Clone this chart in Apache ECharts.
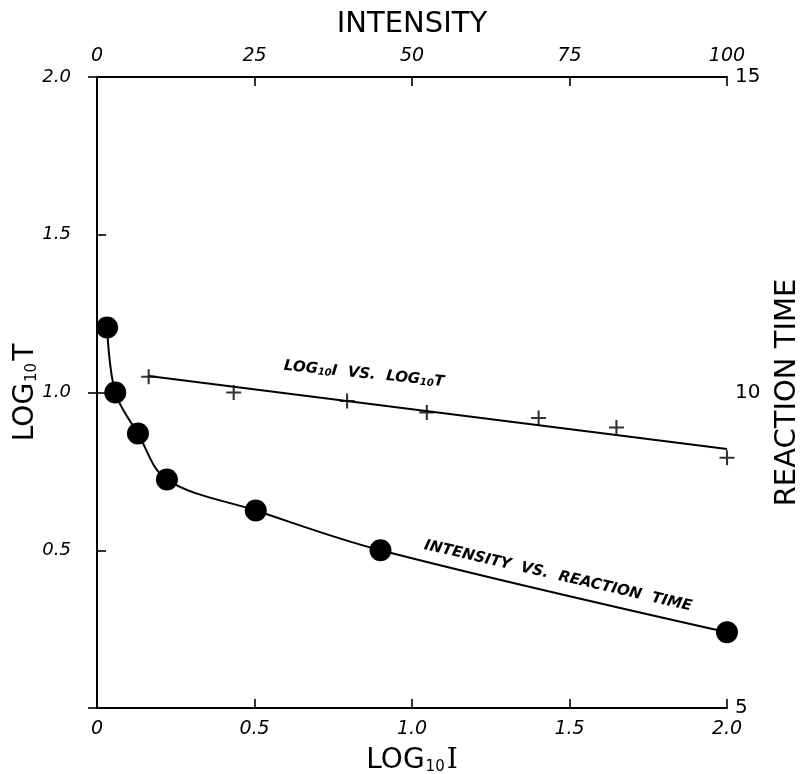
<!DOCTYPE html>
<html><head><meta charset="utf-8">
<script src="https://cdn.jsdelivr.net/npm/echarts@6/dist/echarts.min.js"></script>
<style>html,body{margin:0;padding:0;background:#fff}#c{width:804px;height:774px}</style>
</head><body><div id="c"></div>
<script>
// bottom / left axes: log10 I vs log10 T
const logIRange = [0, 2];
const logTRange = [0, 2];
// top / right axes: intensity vs reaction time
const intensityRange = [0, 100];
const reactionTimeRange = [5, 15];

// Intensity vs reaction time (filled dots, smooth curve)
const intensity = [1.6, 2.9, 6.5, 11.1, 25.2, 45, 100];
const reactionTime = [11.03, 10.0, 9.35, 8.62, 8.13, 7.5, 6.2];

// log10 I vs log10 T (crosses)
const logI = [0.164, 0.434, 0.794, 1.047, 1.402, 1.649, 2.0];
const logT = [1.05, 1.0, 0.973, 0.937, 0.919, 0.889, 0.793];

// straight fitted line through the crosses
const fitLogI = [0.164, 2.0];
const fitLogT = [1.052, 0.821];

const dots = intensity.map((v, i) => [v, reactionTime[i]]);
const crosses = logI.map((v, i) => [v, logT[i]]);
const fit = fitLogI.map((v, i) => [v, fitLogT[i]]);

const black = '#000';
const tickFont = {color: black, fontFamily: 'DejaVu Sans', fontStyle: 'italic', fontSize: 19};
const titleRich = {
  a: {fontFamily: 'DejaVu Sans', fontSize: 28, color: black},
  s: {fontFamily: 'DejaVu Sans', fontSize: 15, color: black, verticalAlign: 'bottom', padding: [14, 2, 0, 1]},
  b: {fontFamily: 'DejaVu Serif', fontSize: 28, color: black}
};
const axLine = {show: true, lineStyle: {color: black, width: 2}};
const axTick = {show: true, inside: true, length: 9, lineStyle: {color: black, width: 1.6}};

const chart = echarts.init(document.getElementById('c'), null, {renderer: 'canvas'});
chart.setOption({
  backgroundColor: '#fff',
  animation: false,
  grid: {left: 97, right: 77, top: 77, bottom: 66, containLabel: false, outerBoundsMode: 'none'},
  xAxis: [
    {
      type: 'value', position: 'bottom', min: logIRange[0], max: logIRange[1], interval: 0.5,
      axisLine: axLine, axisTick: axTick, splitLine: {show: false},
      axisLabel: Object.assign({margin: 12, formatter: v => v === 0 ? '0' : v.toFixed(1)}, tickFont),
      name: '{a|LOG}{s|10}{b|I}', nameLocation: 'middle', nameGap: 38, nameMoveOverlap: false,
      nameTextStyle: {rich: titleRich}
    },
    {
      type: 'value', position: 'top', min: intensityRange[0], max: intensityRange[1], interval: 25,
      axisLine: axLine, axisTick: axTick, splitLine: {show: false},
      axisLabel: Object.assign({margin: 11}, tickFont),
      name: 'INTENSITY', nameLocation: 'middle', nameGap: 38, nameMoveOverlap: false,
      nameTextStyle: {fontFamily: 'DejaVu Sans', fontSize: 29, color: black}
    }
  ],
  yAxis: [
    {
      type: 'value', position: 'left', min: logTRange[0], max: logTRange[1], interval: 0.5,
      axisLine: axLine, axisTick: axTick, splitLine: {show: false},
      axisLabel: Object.assign({margin: 26, showMinLabel: false, formatter: v => v === 0 ? '' : v.toFixed(1)}, tickFont, {fontSize: 18}),
      name: '{a|LOG}{s|10}{a|T}', nameLocation: 'middle', nameGap: 57, nameMoveOverlap: false,
      nameTextStyle: {rich: titleRich}
    },
    {
      type: 'value', position: 'right', min: reactionTimeRange[0], max: reactionTimeRange[1], interval: 5,
      axisLine: axLine, axisTick: axTick, splitLine: {show: false},
      axisLabel: Object.assign({margin: 8}, tickFont, {fontStyle: 'normal', fontSize: 20}),
      name: 'REACTION TIME', nameLocation: 'middle', nameGap: 46, nameRotate: 90, nameMoveOverlap: false,
      nameTextStyle: {fontFamily: 'DejaVu Sans', fontSize: 29, color: black}
    }
  ],
  series: [
    {
      type: 'line', name: 'fit', xAxisIndex: 0, yAxisIndex: 0, data: fit,
      showSymbol: false, symbol: 'none', clip: false,
      lineStyle: {color: black, width: 2}, z: 2
    },
    {
      type: 'scatter', name: 'log', xAxisIndex: 0, yAxisIndex: 0, data: crosses,
      symbol: 'path://M0,4.3H10V5.7H0Z M4.3,0H5.7V10H4.3Z', symbolSize: 15, clip: false,
      itemStyle: {color: black}, z: 3
    },
    {
      type: 'line', name: 'rt', xAxisIndex: 1, yAxisIndex: 1, data: dots,
      smooth: 0.35, clip: false,
      symbol: 'circle', symbolSize: 22, showSymbol: true,
      itemStyle: {color: black}, lineStyle: {color: black, width: 2}, z: 4
    }
  ],
  graphic: [
    {
      type: 'text', x: 364, y: 374, rotation: -0.1,
      style: {
        text: '{a|LOG}{s|10}{a|I  VS.  LOG}{s|10}{a|T}',
        align: 'center', verticalAlign: 'middle',
        rich: {
          a: {fontFamily: 'DejaVu Sans', fontWeight: 'bold', fontStyle: 'italic', fontSize: 15, fill: black},
          s: {fontFamily: 'DejaVu Sans', fontWeight: 'bold', fontStyle: 'italic', fontSize: 10, fill: black, padding: [5, 0, 0, 0]}
        }
      }
    },
    {
      type: 'text', x: 558, y: 576, rotation: -0.227,
      style: {
        text: 'INTENSITY  VS.  REACTION  TIME',
        align: 'center', verticalAlign: 'middle',
        fontFamily: 'DejaVu Sans', fontWeight: 'bold', fontStyle: 'italic', fontSize: 15, fill: black
      }
    }
  ]
});
</script>
</body></html>
